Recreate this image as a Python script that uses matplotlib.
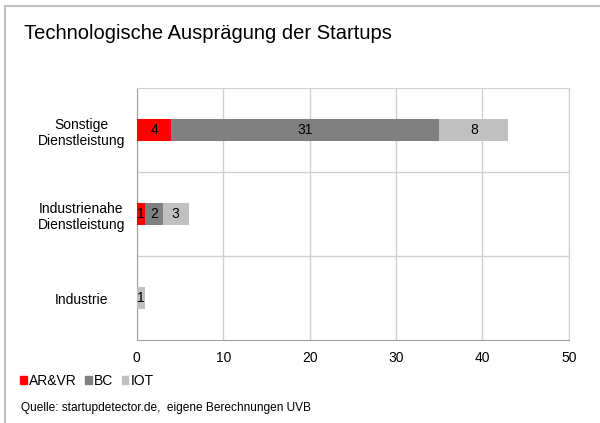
import matplotlib.pyplot as plt
from matplotlib.patches import Patch
from matplotlib.lines import Line2D

plt.rcParams['font.family'] = ['Liberation Sans', 'DejaVu Sans']

# data (bottom to top)
categories = ["Industrie", "Industrienahe\nDienstleistung", "Sonstige\nDienstleistung"]
arvr = [0, 1, 4]
bc = [0, 2, 31]
iot = [1, 3, 8]
series_names = ["AR&VR", "BC", "IOT"]
colors = ["#ff0000", "#808080", "#c0c0c0"]
xticks = [0, 10, 20, 30, 40, 50]

fig = plt.figure(figsize=(6, 4.23), dpi=100)
ax = fig.add_axes([0.228, 0.196, 0.72, 0.596])

y = range(len(categories))
left = [0] * len(categories)
for vals, name, col in zip([arvr, bc, iot], series_names, colors):
    bars = ax.barh(y, vals, left=left, height=0.27, color=col, label=name, zorder=3)
    for b, v, l in zip(bars, vals, left):
        if v > 0:
            ax.text(l + v / 2, b.get_y() + b.get_height() / 2, str(v),
                    ha='center', va='center', fontsize=10, color='black', zorder=4)
    left = [a + b for a, b in zip(left, vals)]

ax.set_xlim(0, 50)
ax.set_ylim(-0.5, 2.5)
ax.set_xticks(xticks)
ax.set_yticks(list(y))
ax.set_yticklabels(categories, ha='center', fontsize=10, linespacing=1.25)
ax.tick_params(axis='y', pad=40, length=0)
ax.tick_params(axis='x', length=0, pad=8, labelsize=10)
ax.set_yticks([0.5, 1.5], minor=True)
ax.tick_params(axis='y', which='minor', length=0)
ax.grid(True, axis='x', color='#d0d0d0', lw=1, zorder=0)
ax.grid(True, axis='y', which='minor', color='#d0d0d0', lw=1, zorder=0)
for s in ['top', 'right']:
    ax.spines[s].set_color('#d0d0d0')
for s in ['left', 'bottom']:
    ax.spines[s].set_color('#a0a0a0')

fig.text(0.04, 0.92, "Technologische Ausprägung der Startups", fontsize=14.5, va='center')

handles = [Patch(color=c) for c in colors]
fig.legend(handles, series_names, loc='center left', bbox_to_anchor=(0.033, 0.1),
           ncol=3, frameon=False, fontsize=10, handlelength=0.5, handleheight=0.5,
           handletextpad=0.15, columnspacing=0.6, borderaxespad=0, borderpad=0)

fig.text(0.035, 0.035, "Quelle: startupdetector.de,  eigene Berechnungen UVB", fontsize=8.6, va='center')

# outer frame (left and top)
fig.add_artist(Line2D([0.009, 0.009], [0, 0.985], color='#c0c0c0', lw=1.5, transform=fig.transFigure))
fig.add_artist(Line2D([0.009, 1.0], [0.985, 0.985], color='#c0c0c0', lw=1.5, transform=fig.transFigure))

fig.savefig("out.png", dpi=100)
